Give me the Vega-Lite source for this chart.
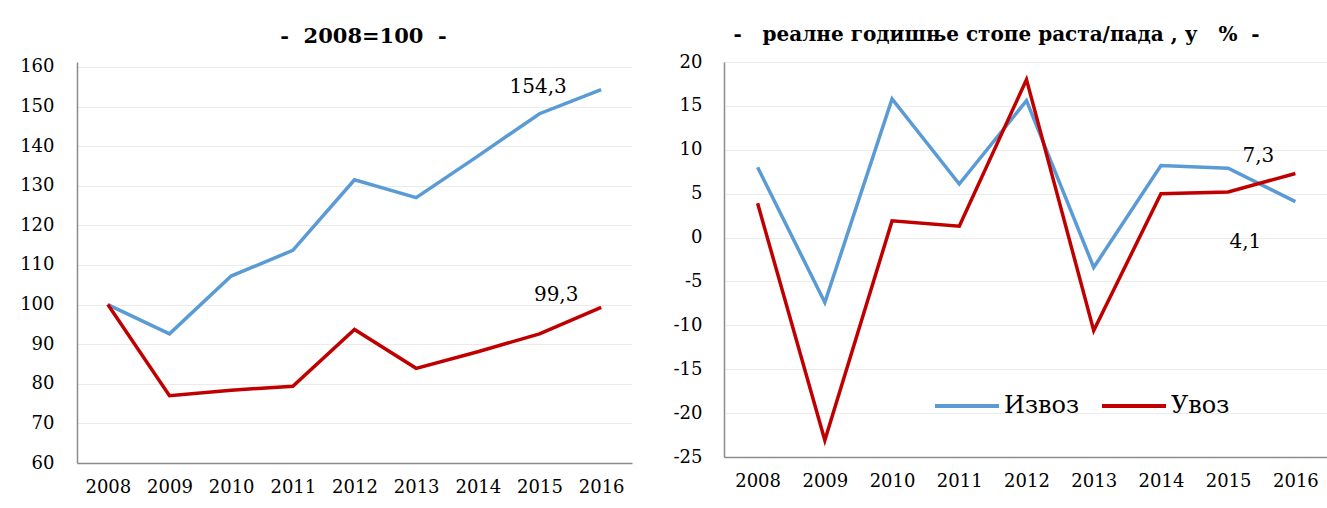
{
  "$schema": "https://vega.github.io/schema/vega-lite/v6.json",
  "background": "white",
  "padding": {"left": 19, "top": 24, "right": 0, "bottom": 0},
  "spacing": 40,
  "datasets": {
    "trade": [
      {"year": "2008", "series": "Извоз", "index": 100.0, "rate": 8.0},
      {"year": "2009", "series": "Извоз", "index": 92.6, "rate": -7.4},
      {"year": "2010", "series": "Извоз", "index": 107.2, "rate": 15.8},
      {"year": "2011", "series": "Извоз", "index": 113.7, "rate": 6.1},
      {"year": "2012", "series": "Извоз", "index": 131.5, "rate": 15.6},
      {"year": "2013", "series": "Извоз", "index": 127.0, "rate": -3.4},
      {"year": "2014", "series": "Извоз", "index": 137.5, "rate": 8.2},
      {"year": "2015", "series": "Извоз", "index": 148.2, "rate": 7.9},
      {"year": "2016", "series": "Извоз", "index": 154.3, "rate": 4.1, "indexLabel": "154,3", "rateLabel": "4,1"},
      {"year": "2008", "series": "Увоз", "index": 100.0, "rate": 3.9},
      {"year": "2009", "series": "Увоз", "index": 77.0, "rate": -23.1},
      {"year": "2010", "series": "Увоз", "index": 78.4, "rate": 1.9},
      {"year": "2011", "series": "Увоз", "index": 79.4, "rate": 1.3},
      {"year": "2012", "series": "Увоз", "index": 93.7, "rate": 18.0},
      {"year": "2013", "series": "Увоз", "index": 83.9, "rate": -10.6},
      {"year": "2014", "series": "Увоз", "index": 88.1, "rate": 5.0},
      {"year": "2015", "series": "Увоз", "index": 92.6, "rate": 5.2},
      {"year": "2016", "series": "Увоз", "index": 99.3, "rate": 7.3, "indexLabel": "99,3", "rateLabel": "7,3"}
    ]
  },
  "config": {
    "font": "DejaVu Serif",
    "view": {"stroke": "#D9D9D9", "strokeWidth": 1},
    "axis": {
      "labelFont": "DejaVu Serif",
      "labelFontSize": 18,
      "labelColor": "#000000",
      "domainColor": "#8C8C8C",
      "domainWidth": 1.5,
      "ticks": false,
      "gridColor": "#EBEBEB",
      "gridWidth": 1,
      "title": null
    },
    "title": {"font": "DejaVu Serif", "fontSize": 20, "fontWeight": "bold", "color": "#000000"},
    "text": {"font": "DejaVu Serif", "fontSize": 20, "color": "#000000"}
  },
  "resolve": {"scale": {"color": "independent"}, "legend": {"color": "independent"}},
  "hconcat": [
    {
      "width": 555,
      "height": 401,
      "view": {"stroke": null},
      "title": {"text": "-\u00a0\u00a02008=100\u00a0\u00a0-", "dx": 9, "offset": 11, "fontSize": 21},
      "data": {"name": "trade"},
      "encoding": {
        "x": {"field": "year", "type": "ordinal", "scale": {"type": "point", "padding": 0.5}, "axis": {"labelAngle": 0, "labelPadding": 15, "grid": false}},
        "y": {"field": "index", "type": "quantitative", "scale": {"domain": [60, 161.26], "nice": false, "zero": false}, "axis": {"values": [60, 70, 80, 90, 100, 110, 120, 130, 140, 150, 160], "labelPadding": 23, "grid": true}}
      },
      "layer": [
        {
          "mark": {"type": "line", "strokeWidth": 3.5},
          "encoding": {
            "color": {"field": "series", "type": "nominal", "scale": {"domain": ["Извоз", "Увоз"], "range": ["#5B9BD5", "#C00000"]}, "legend": null}
          }
        },
        {
          "transform": [{"filter": "datum.series == 'Извоз' && datum.indexLabel != null"}],
          "mark": {"type": "text", "dx": -63, "dy": -3},
          "encoding": {"text": {"field": "indexLabel"}}
        },
        {
          "transform": [{"filter": "datum.series == 'Увоз' && datum.indexLabel != null"}],
          "mark": {"type": "text", "dx": -45, "dy": -12},
          "encoding": {"text": {"field": "indexLabel"}}
        }
      ]
    },
    {
      "width": 605,
      "height": 395,
      "title": {"text": "-\u00a0\u00a0 реалне годишње стопе раста/пада , у\u00a0\u00a0 %\u00a0 -", "dx": -30, "offset": 8},
      "layer": [
        {
          "mark": {"type": "rule", "color": "#8C8C8C", "strokeWidth": 1.5},
          "encoding": {"y": {"datum": 0, "type": "quantitative"}}
        },
        {
          "data": {"name": "trade"},
          "mark": {"type": "line", "strokeWidth": 3.5},
          "encoding": {
            "x": {"field": "year", "type": "ordinal", "scale": {"type": "point", "padding": 0.5}, "axis": {"labelAngle": 0, "labelPadding": 15, "grid": false}},
            "y": {"field": "rate", "type": "quantitative", "scale": {"domain": [-25, 20], "nice": false, "zero": false}, "axis": {"values": [-25, -20, -15, -10, -5, 0, 5, 10, 15, 20], "labelExpr": "datum.value + ''", "labelPadding": 22, "grid": true}},
            "color": {
              "field": "series", "type": "nominal",
              "scale": {"domain": ["Извоз", "Увоз"], "range": ["#5B9BD5", "#C00000"]},
              "legend": {
                "title": null, "orient": "none", "direction": "horizontal",
                "legendX": 209, "legendY": 310,
                "symbolType": "stroke", "symbolSize": 4096, "symbolStrokeWidth": 4,
                "labelFont": "DejaVu Serif", "labelFontSize": 24, "labelColor": "#000000",
                "labelOffset": 3, "columnPadding": 14
              }
            }
          }
        },
        {
          "data": {"name": "trade"},
          "transform": [{"filter": "datum.series == 'Увоз' && datum.rateLabel != null"}],
          "mark": {"type": "text", "dx": -37, "dy": -17},
          "encoding": {
            "x": {"field": "year", "type": "ordinal"},
            "y": {"field": "rate", "type": "quantitative"},
            "text": {"field": "rateLabel"}
          }
        },
        {
          "data": {"name": "trade"},
          "transform": [{"filter": "datum.series == 'Извоз' && datum.rateLabel != null"}],
          "mark": {"type": "text", "dx": -50, "dy": 40},
          "encoding": {
            "x": {"field": "year", "type": "ordinal"},
            "y": {"field": "rate", "type": "quantitative"},
            "text": {"field": "rateLabel"}
          }
        }
      ]
    }
  ]
}
